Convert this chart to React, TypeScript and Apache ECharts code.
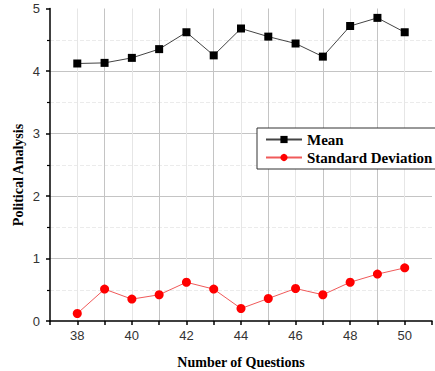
import React, { useEffect, useRef } from "react";
import * as echarts from "echarts";

const questions = [38, 39, 40, 41, 42, 43, 44, 45, 46, 47, 48, 49, 50];
const meanValues = [4.12, 4.13, 4.21, 4.35, 4.62, 4.25, 4.68, 4.55, 4.44, 4.23, 4.72, 4.85, 4.62];
const sdValues = [0.12, 0.51, 0.35, 0.42, 0.62, 0.51, 0.2, 0.36, 0.52, 0.42, 0.62, 0.75, 0.85];
const seriesNames = ["Mean", "Standard Deviation"];
const xName = "Number of Questions";
const yName = "Political Analysis";

export default function App() {
  const ref = useRef<HTMLDivElement>(null);
  useEffect(() => {
    if (!ref.current) return;
    const chart = echarts.init(ref.current, null, { renderer: "svg" });
    const serif = "'Liberation Serif', 'Times New Roman', serif";
    const sans = "'Liberation Sans', Arial, sans-serif";
    chart.setOption({
      animation: false,
      backgroundColor: "#fff",
      grid: { left: 50, top: 8.5, right: 3, bottom: 50, containLabel: false, outerBoundsMode: "none" },
      graphic: [
        {
          type: "text",
          x: 18,
          y: 175,
          rotation: Math.PI / 2,
          style: {
            text: yName,
            fontFamily: serif,
            fontWeight: "bold",
            fontSize: 14,
            fill: "#000",
            align: "center",
            verticalAlign: "middle",
          },
        },
      ],
      legend: {
        left: 257,
        top: 128,
        orient: "vertical",
        itemGap: 3,
        itemWidth: 36,
        itemHeight: 9,
        padding: [4, 8, 4, 8],
        borderColor: "#333",
        borderWidth: 1,
        borderRadius: 0,
        backgroundColor: "#fff",
        textStyle: { fontFamily: serif, fontWeight: "bold", fontSize: 15, color: "#000" },
        data: seriesNames,
      },
      xAxis: {
        type: "value",
        min: 37,
        max: 51,
        interval: 1,
        name: xName,
        nameLocation: "middle",
        nameGap: 34,
        nameTextStyle: { fontFamily: serif, fontWeight: "bold", fontSize: 14, color: "#000" },
        axisLine: { show: true, onZero: false, lineStyle: { color: "#000", width: 1.5 } },
        axisTick: { show: true, inside: false, length: 4, lineStyle: { color: "#000", width: 1.5 } },
        axisLabel: {
          fontFamily: sans,
          fontSize: 13,
          color: "#333",
          margin: 8,
          formatter: (v: number) => (v % 2 === 0 ? String(v) : ""),
        },
        splitLine: {
          show: true,
          showMinLine: false,
          showMaxLine: false,
          lineStyle: { color: ["#e6e6e6", "#c4c4c4"], width: 1 },
        },
      },
      yAxis: {
        type: "value",
        min: 0,
        max: 5,
        interval: 1,
        axisLine: { show: true, lineStyle: { color: "#000", width: 1.5 } },
        axisTick: { show: true, length: 4, lineStyle: { color: "#000", width: 1.5 } },
        minorTick: { show: true, splitNumber: 2, length: 3, lineStyle: { color: "#000", width: 1.2 } },
        minorSplitLine: { show: true, lineStyle: { color: "#ebebeb", width: 1, type: "dashed" } },
        axisLabel: { fontFamily: sans, fontSize: 13, color: "#333", margin: 10 },
        splitLine: {
          show: true,
          showMinLine: false,
          showMaxLine: false,
          lineStyle: { color: "#c4c4c4", width: 1 },
        },
      },
      series: [
        {
          name: seriesNames[0],
          type: "line",
          data: questions.map((q, i) => [q, meanValues[i]]),
          symbol: "rect",
          symbolSize: 8,
          itemStyle: { color: "#000" },
          lineStyle: { color: "#444", width: 1 },
        },
        {
          name: seriesNames[1],
          type: "line",
          data: questions.map((q, i) => [q, sdValues[i]]),
          symbol: "circle",
          symbolSize: 9,
          itemStyle: { color: "#ff0000" },
          lineStyle: { color: "#f05a5a", width: 1 },
        },
      ],
    });
    return () => chart.dispose();
  }, []);
  return <div ref={ref} style={{ width: 435, height: 371, position: "absolute", left: 0, top: 0 }} />;
}
